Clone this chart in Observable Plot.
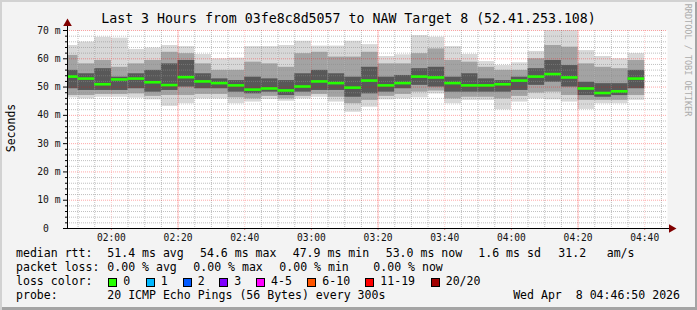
<!DOCTYPE html>
<html><head><meta charset="utf-8">
<script src="https://cdn.jsdelivr.net/npm/d3@7"></script>
<script src="https://cdn.jsdelivr.net/npm/@observablehq/plot@0.6"></script>
<style>
html,body{margin:0;padding:0;background:#fff;}
#wrap{position:relative;width:697px;height:310px;background:#f3f3f3;overflow:hidden;font-family:"DejaVu Sans Mono",monospace;color:#000;
 box-shadow: inset 2px 2px 0 #d2d2d2, inset -2px -3px 0 #a4a4a4;}
#wrap svg{position:absolute;left:0;top:0;}
.t{position:absolute;white-space:pre;line-height:1;}
.sw{position:absolute;width:9px;height:9px;box-sizing:border-box;border:1px solid #000;}
</style>
</head><body>
<div id="wrap"></div>
<script>
// ---------- data ----------
const day = [2026, 3, 8];
const windowStart = "01:46:50";
const windowEnd = "04:46:50";
const bucketEnd = ["01:50","01:55","02:00","02:05","02:10","02:15","02:20","02:25","02:30","02:35","02:40","02:45","02:50","02:55","03:00","03:05","03:10","03:15","03:20","03:25","03:30","03:35","03:40","03:45","03:50","03:55","04:00","04:05","04:10","04:15","04:20","04:25","04:30","04:35","04:40"];
const median = [53.7,53.0,51.0,52.7,53.0,51.7,50.7,53.5,52.0,51.4,50.6,49.1,49.5,48.8,50.2,52.0,51.4,49.8,52.3,50.6,51.4,53.7,53.4,51.4,50.6,50.6,51.0,52.3,53.7,54.6,53.4,49.5,47.9,48.5,53.0];
const pingMax = [64.7,65.9,67.6,67.3,63.3,63.8,64.7,64.3,61.5,60.0,60.2,64.3,64.3,64.7,66.2,64.5,64.5,66.2,65.0,60.8,61.4,68.2,67.6,64.3,61.5,59.0,57.6,58.6,62.6,70.4,70.4,62.9,60.8,60.0,61.8];
const upperMid = [61.2,58.2,59.4,57.0,58.2,59.4,62.3,61.8,58.2,55.9,55.9,58.8,58.2,57.0,61.8,62.3,60.6,60.6,62.3,58.2,58.2,61.8,63.5,59.4,58.8,57.0,55.9,55.9,60.0,64.7,64.1,58.2,57.0,56.5,59.4];
const upperCore = [55.9,54.7,56.5,53.5,54.7,55.9,58.2,59.4,54.7,52.9,52.3,53.5,52.9,52.3,54.7,55.9,54.7,53.5,57.0,53.5,54.1,56.5,57.0,53.5,54.7,52.9,52.3,53.5,56.5,59.4,57.6,51.7,51.2,51.2,55.9];
const lowerCore = [49.4,48.8,48.8,48.8,49.4,48.2,48.8,50.0,49.4,49.4,48.2,47.6,48.2,47.0,48.2,48.8,48.8,46.4,47.6,48.2,49.4,50.6,50.0,48.2,48.2,48.2,48.2,48.8,50.6,51.7,50.0,47.0,46.4,47.0,49.4];
const lowerMid = [47.0,47.0,47.4,47.4,47.6,46.7,47.0,47.0,47.4,47.4,46.2,45.8,46.7,45.8,46.7,47.4,46.4,44.1,45.3,46.7,47.4,48.2,48.6,45.8,46.4,46.4,45.8,46.7,47.9,48.2,47.0,45.3,45.3,45.3,47.0];
const pingMin = [46.2,45.8,46.4,46.4,46.1,45.5,43.2,44.1,45.8,45.8,44.1,44.7,45.6,45.0,45.8,46.4,44.7,41.1,42.9,45.5,45.8,46.2,47.6,44.1,45.3,45.3,42.0,44.7,45.8,45.5,44.7,42.1,44.1,44.1,45.3];

const yTickValues = [0,10,20,30,40,50,60,70];
const yTickLabels = ["0\u00a0\u00a0","10 m","20 m","30 m","40 m","50 m","60 m","70 m"];
const xTickLabels = ["02:00","02:20","02:40","03:00","03:20","03:40","04:00","04:20","04:40"];
const xEmphasis = ["02:20","03:20","04:20"];

const title = "Last 3 Hours from 03fe8c8d5057 to NAW Target 8 (52.41.253.108)";
const yLabel = "Seconds";
const credit = "RRDTOOL / TOBI OETIKER";
const rttRow = [["median rtt:",16],["51.4 ms avg",107.3],["54.6 ms max",200],["47.9 ms min",292.7],["53.0 ms now",385.7],["1.6 ms sd",478.3],["31.2",558.3],["am/s",606.7]];
const lossRow = [["packet loss:",16],["0.00 % avg",107.3],["0.00 % max",193.3],["0.00 % min",279.3],["0.00 % now",373.3]];
const lossLabels = ["0","1","2","3","4-5","6-10","11-19","20/20"];
const lossColors = ["#26ff00","#00b8ff","#0059ff","#7e00ff","#ff00ff","#ff5500","#ff0000","#a10000"];
const lossBoxX = [108.3,145.7,182.7,219.3,256,307.3,365.3,430.7];
const probeText = "20 ICMP Echo Pings (56 Bytes) every 300s";
const stamp = "Wed Apr  8 04:46:50 2026";

// ---------- build ----------
const T = s => { const [h,m,sec] = s.split(":").map(Number); return new Date(Date.UTC(day[0],day[1],day[2],h,m,sec||0)); };
const t0 = T(windowStart), t1 = T(windowEnd);
const rows = bucketEnd.map((e,i) => ({
  x1: new Date(+T(e) - 300000), x2: T(e),
  med: median[i], max: pingMax[i], hi2: upperMid[i], hi1: upperCore[i], lo1: lowerCore[i], lo2: lowerMid[i], min: pingMin[i]
}));
const yMinor = d3.range(2, 70, 2).filter(v => v % 10 !== 0);
const yMajorGrid = yTickValues.filter(v => v > 0);
const xMajor = xTickLabels.map(T);
const xStrong = xEmphasis.map(T);
const xMinor = d3.utcMinute.every(5).range(t0, t1).filter(d => d.getUTCMinutes() % 20 !== 0);
const labelOf = new Map(yTickValues.map((v,i)=>[v, yTickLabels[i]]));
const fmt = d3.utcFormat("%H:%M");

const chart = Plot.plot({
  width: 697, height: 310,
  marginLeft: 67, marginRight: 30, marginTop: 30, marginBottom: 82,
  style: {background: "transparent", fontFamily: "DejaVu Sans Mono", color: "#000", overflow: "visible"},
  x: {type: "utc", domain: [t0, t1]},
  y: {domain: [0, 70]},
  marks: [
    Plot.frame({fill: "white", stroke: null}),
    Plot.rect(rows, {x1: "x1", x2: "x2", y1: "min", y2: "max", fill: "#d8d8d8", clip: true}),
    Plot.rect(rows, {x1: "x1", x2: "x2", y1: "lo2", y2: "hi2", fill: "#a3a3a3", clip: true}),
    Plot.rect(rows, {x1: "x1", x2: "x2", y1: "lo1", y2: "hi1", fill: "#585858", clip: true}),
    Plot.ruleY(yMinor, {stroke: "#8c8c8c", strokeOpacity: 0.55, strokeDasharray: "1,1"}),
    Plot.ruleX(xMinor, {stroke: "#8c8c8c", strokeOpacity: 0.55, strokeDasharray: "1,1"}),
    Plot.ruleY(yMajorGrid, {stroke: "#ff0000", strokeOpacity: 0.35, strokeDasharray: "1,1"}),
    Plot.ruleX(xMajor, {stroke: "#ff0000", strokeOpacity: 0.2, strokeDasharray: "1,1"}),
    Plot.ruleX(xStrong, {stroke: "#ff0000", strokeOpacity: 0.22}),
    Plot.ruleY(rows, {x1: "x1", x2: "x2", y: "med", stroke: "#26ff00", strokeWidth: 2.6, clip: true}),
    Plot.axisY({ticks: yMinor, tickSize: 2, tickFormat: () => "", label: null}),
    Plot.axisY({ticks: yTickValues, tickSize: 4, tickPadding: 3, tickFormat: d => labelOf.get(d), label: null, fontSize: 9.7, fill: "#111"}),
    Plot.axisX({ticks: xMajor, tickSize: 2, tickPadding: 4, tickFormat: fmt, label: null, fontSize: 9.6, fill: "#111", stroke: "#e08080"}),
    Plot.ruleY([0], {x1: new Date(+t0 - 55000), x2: new Date(+t1 + 50000), stroke: "#000"}),
    Plot.ruleX([t0], {y1: 0, y2: 71.5, stroke: "#000"}),
    Plot.dot([{x: t1, y: 0}], {x: "x", y: "y", dx: 4, symbol: "triangle", rotate: 90, r: 3.2, fill: "#800000", stroke: null}),
    Plot.dot([{x: t0, y: 70}], {x: "x", y: "y", dy: -7, symbol: "triangle", r: 3.2, fill: "#800000", stroke: null})
  ]
});
const wrap = document.getElementById("wrap");
wrap.appendChild(chart);

function addText(txt, x, baseline, fs, extra) {
  const d = document.createElement("div");
  d.className = "t";
  d.textContent = txt;
  d.style.fontSize = fs + "px";
  d.style.left = x + "px";
  d.style.top = (baseline - 0.846 * fs) + "px";
  if (extra) Object.assign(d.style, extra);
  wrap.appendChild(d);
  return d;
}
// title
addText(title, 0, 23.5, 13.25, {width: "697px", left: "0px", textAlign: "center"});
// legend rows
const LF = 11.55;
rttRow.forEach(([s,x]) => addText(s, x, 258, LF));
lossRow.forEach(([s,x]) => addText(s, x, 272, LF));
addText("loss color:", 16, 286, LF);
lossLabels.forEach((s,i) => {
  const b = document.createElement("div");
  b.className = "sw";
  b.style.left = lossBoxX[i] + "px";
  b.style.top = "277.5px";
  b.style.background = lossColors[i];
  wrap.appendChild(b);
  addText(s, lossBoxX[i] + 15, 286, LF);
});
addText("probe:", 16, 300, LF);
addText(probeText, 107.3, 300, LF);
addText(stamp, 0, 300, LF, {left: "auto", right: "17px"});
// y label (rotated)
const yl = addText(yLabel, 10.5 - 50, 127.5, 11.5, {width: "100px", textAlign: "center", transform: "rotate(-90deg)", transformOrigin: "50% 50%"});
yl.style.top = (127.5 - 6) + "px"; yl.style.height = "12px"; yl.style.lineHeight = "12px";
// credit (rotated)
const cr = addText(credit, 688 - 60, 60, 8.5, {width: "120px", textAlign: "center", transform: "rotate(90deg)", transformOrigin: "50% 50%", color: "#ababab"});
cr.style.top = (60 - 5) + "px"; cr.style.height = "10px"; cr.style.lineHeight = "10px";
</script>
</body></html>
